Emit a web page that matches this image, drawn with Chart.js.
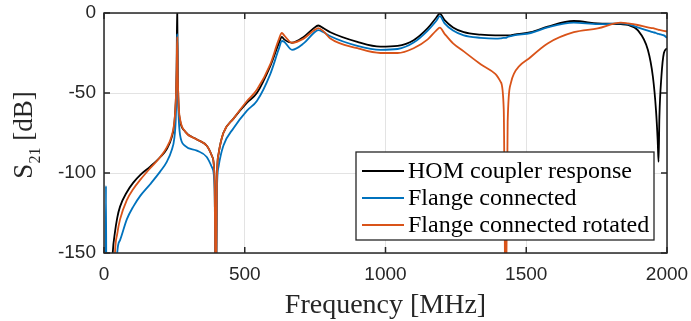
<!DOCTYPE html>
<html>
<head>
<meta charset="utf-8">
<script src="https://cdn.jsdelivr.net/npm/chart.js@4.4.1/dist/chart.umd.min.js"></script>
<style>
  html, body { margin: 0; padding: 0; background: #ffffff; }
  #wrap { width: 691px; height: 321px; }
</style>
</head>
<body>
<div id="wrap"><canvas id="s21"></canvas></div>
<script>
/* ------------------
  data (dB values, -200 = below the axis)
-------------------*/
var freq = [0, 5, 7, 9, 20, 31, 39, 47, 57, 81,
  104, 130, 164, 200, 223, 240, 250, 255, 258, 260,
  262, 265, 270, 288, 330, 365, 385, 393, 397, 401,
  407, 424, 460, 508, 543, 591, 620, 632, 640, 668,
  709, 745, 761, 780, 804, 900, 982, 1043, 1100, 1150,
  1180, 1193, 1210, 1240, 1278, 1338, 1390, 1409, 1420, 1427,
  1434, 1445, 1456, 1516, 1576, 1669, 1754, 1836, 1861, 1896,
  1932, 1950, 1961, 1967, 1970, 1973, 1980, 1989, 2000];

var homCoupler = [-200, -200, -200, -200, -200, -150, -137, -128, -121, -112,
  -106, -101, -96, -90, -85, -78, -69, -55, -35, 5,
  -35, -58, -67, -74, -79, -83, -90, -105, -200, -105,
  -88, -75, -66, -56, -50, -33, -19.5, -15, -16.5, -18.6,
  -15, -9.5, -7.8, -9.5, -12, -18, -21, -20.5, -17, -9.5,
  -3, -0.3, -4.5, -9, -12, -13.5, -14, -14, -14, -14,
  -14, -14, -13.5, -12, -8.5, -5, -6.5, -7, -7.5, -10.7,
  -23, -40, -61, -80, -93, -65, -40, -25, -22];

var flangeConnected = [-200, -200, -108, -200, -200, -200, -200, -150, -142, -129,
  -121, -114, -107, -99, -93, -86, -78, -66, -45, -13,
  -45, -64, -76, -83, -86, -90, -97, -110, -200, -112,
  -96, -83, -72, -61, -55, -38, -23, -17.5, -18, -23,
  -19, -12.5, -10.7, -12, -14.5, -20.5, -23, -22.5, -18.5, -11,
  -5, -2, -6.5, -11, -14, -15.5, -16, -15.8, -15.5, -15.5,
  -15, -14.5, -14, -12.5, -9, -6, -7, -6.5, -7, -9,
  -11, -12, -12.5, -13, -13, -13.2, -13.5, -14, -15.5];

var flangeRotated = [-200, -200, -200, -200, -200, -200, -150, -138, -129, -117,
  -110, -104, -97, -90, -84, -77, -68, -55, -36, -15,
  -38, -57, -66, -74, -79, -83, -90, -105, -200, -105,
  -88, -75, -66, -55, -48, -32, -17, -12.5, -14, -18.6,
  -16, -11, -9.4, -11.5, -16, -22, -25, -25, -22, -16.5,
  -11, -9.2, -13, -19, -24, -32, -38, -43, -60, -200,
  -68, -44, -38, -27.5, -19, -12, -9.6, -6, -6.5, -7.5,
  -9, -9.5, -10, -10.3, -10.5, -10.6, -10.8, -11.2, -11.5];

var seriesNames = ['HOM coupler response', 'Flange connected', 'Flange connected rotated'];
var seriesColors = ['#000000', '#0072BD', '#D95319'];
var xTicks = [0, 500, 1000, 1500, 2000];
var yTicks = [-150, -100, -50, 0];

function toPoints(values) {
  return freq.map(function (f, i) { return { x: f, y: values[i] }; });
}

/* ------------------
  box, inward ticks, legend and y title
-------------------*/
var matlabLook = {
  id: 'matlabLook',
  afterDatasetsDraw: function (chart) {
    var ctx = chart.ctx;
    var a = chart.chartArea;
    var xs = chart.scales.x, ys = chart.scales.y;
    ctx.save();

    // axes box
    ctx.strokeStyle = '#262626';
    ctx.lineWidth = 1.5;
    ctx.strokeRect(a.left, a.top, a.right - a.left, a.bottom - a.top);
    ctx.beginPath();
    xTicks.forEach(function (v) {
      var px = xs.getPixelForValue(v);
      ctx.moveTo(px, a.bottom); ctx.lineTo(px, a.bottom - 6);
      ctx.moveTo(px, a.top); ctx.lineTo(px, a.top + 6);
    });
    yTicks.forEach(function (v) {
      var py = ys.getPixelForValue(v);
      ctx.moveTo(a.left, py); ctx.lineTo(a.left + 6, py);
      ctx.moveTo(a.right, py); ctx.lineTo(a.right - 6, py);
    });
    ctx.stroke();

    // legend
    var lx = 356, ly = 152, lw = 298, lh = 88;
    ctx.fillStyle = '#ffffff';
    ctx.fillRect(lx, ly, lw, lh);
    ctx.strokeStyle = '#262626';
    ctx.lineWidth = 1.3;
    ctx.strokeRect(lx, ly, lw, lh);
    ctx.font = '24px "Liberation Serif", "Times New Roman", serif';
    ctx.textBaseline = 'middle';
    ctx.textAlign = 'left';
    chart.data.datasets.forEach(function (ds, i) {
      var rowY = ly + 19 + i * 27;
      ctx.strokeStyle = ds.borderColor;
      ctx.lineWidth = 1.8;
      ctx.beginPath();
      ctx.moveTo(lx + 6, rowY); ctx.lineTo(lx + 48, rowY);
      ctx.stroke();
      ctx.fillStyle = '#000000';
      ctx.fillText(ds.label, lx + 52, rowY + 1);
    });
    ctx.restore();
  },
  afterDraw: function (chart) {
    // S21 [dB] with a real subscript
    var ctx = chart.ctx;
    ctx.save();
    var big = '27px "Liberation Serif", "Times New Roman", serif';
    var small = '16px "Liberation Serif", "Times New Roman", serif';
    ctx.font = big;
    var wS = ctx.measureText('S').width;
    var wRest = ctx.measureText(' [dB]').width;
    ctx.font = small;
    var wSub = ctx.measureText('21').width;
    ctx.translate(32, 135);
    ctx.rotate(-Math.PI / 2);
    ctx.fillStyle = '#262626';
    ctx.textBaseline = 'alphabetic';
    ctx.textAlign = 'left';
    var x0 = -(wS + wSub + wRest) / 2;
    ctx.font = big;
    ctx.fillText('S', x0, 0);
    ctx.font = small;
    ctx.fillText('21', x0 + wS, 8);
    ctx.font = big;
    ctx.fillText(' [dB]', x0 + wS + wSub, 0);
    ctx.restore();
  }
};

/* ------------------
  chart
-------------------*/
var chart_S21 = new Chart(document.getElementById('s21'), {
  type: 'line',
  data: {
    datasets: [
      {
        label: seriesNames[0],
        data: toPoints(homCoupler),
        borderColor: seriesColors[0],
        borderWidth: 1.8,
        order: 3
      },
      {
        label: seriesNames[1],
        data: toPoints(flangeConnected),
        borderColor: seriesColors[1],
        borderWidth: 1.8,
        order: 2
      },
      {
        label: seriesNames[2],
        data: toPoints(flangeRotated),
        borderColor: seriesColors[2],
        borderWidth: 1.8,
        order: 1
      }
    ]
  },
  options: {
    responsive: true,
    maintainAspectRatio: false,
    animation: false,
    layout: { padding: { top: 13, right: 24, left: 0, bottom: 0 } },
    elements: {
      point: { radius: 0 },
      line: { cubicInterpolationMode: 'monotone', fill: false }
    },
    plugins: {
      legend: { display: false },
      tooltip: { enabled: false }
    },
    scales: {
      x: {
        type: 'linear',
        min: 0,
        max: 2000,
        afterFit: function (scale) {
          scale.height = 68;
          scale.paddingLeft = 0;
          scale.paddingRight = 0;
        },
        afterBuildTicks: function (scale) {
          scale.ticks = xTicks.map(function (v) { return { value: v }; });
        },
        grid: { color: '#e3e3e3', lineWidth: 1, drawTicks: false },
        border: { display: false },
        ticks: {
          padding: 10,
          color: '#262626',
          callback: function (v) { return String(v); },
          font: { family: '"Liberation Sans", Arial, sans-serif', size: 19 }
        },
        title: {
          display: true,
          text: 'Frequency [MHz]',
          color: '#262626',
          padding: { top: 0, bottom: 0 },
          font: { family: '"Liberation Serif", "Times New Roman", serif', size: 28, lineHeight: 1.1 }
        }
      },
      y: {
        min: -150,
        max: 0,
        afterFit: function (scale) {
          scale.width = 104;
          scale.paddingTop = 0;
          scale.paddingBottom = 0;
        },
        afterBuildTicks: function (scale) {
          scale.ticks = yTicks.map(function (v) { return { value: v }; });
        },
        grid: { color: '#e3e3e3', lineWidth: 1, drawTicks: false },
        border: { display: false },
        ticks: {
          padding: 8,
          color: '#262626',
          font: { family: '"Liberation Sans", Arial, sans-serif', size: 19 }
        }
      }
    }
  },
  plugins: [matlabLook]
});
</script>
</body>
</html>
